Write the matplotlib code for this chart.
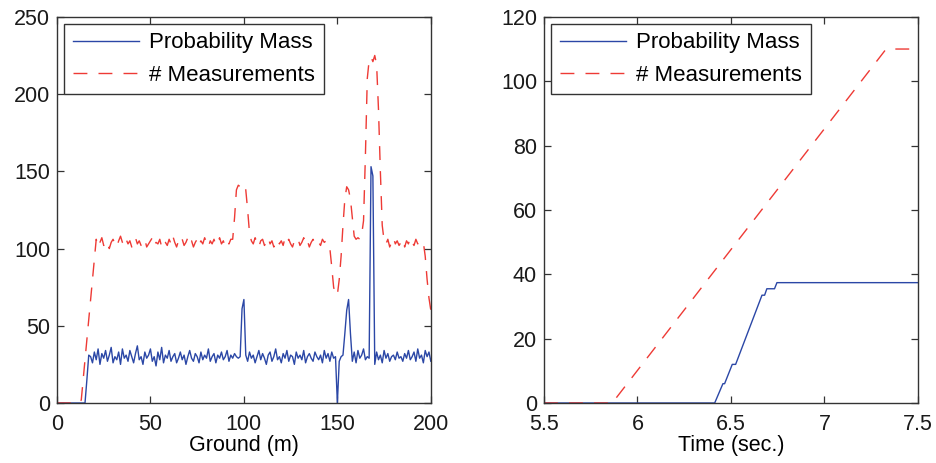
import matplotlib
matplotlib.use("Agg")
import matplotlib.pyplot as plt
import numpy as np

plt.rcParams['font.family'] = ['Liberation Sans', 'DejaVu Sans']
plt.rcParams['font.size'] = 15.5

# left panel: per-metre values along the ground
ground_m = np.arange(0, 201)
prob_mass_ground = [
    0, 0, 0, 0, 0, 0, 0, 0, 0, 0,
    0, 0, 0, 0, 0, 0, 15, 31, 30, 26,
    33, 28, 35, 25, 32, 29, 34, 27, 31, 36,
    26, 30, 28, 33, 25, 35, 29, 31, 27, 34,
    30, 26, 32, 37, 28, 30, 25, 33, 29, 31,
    35, 27, 30, 24, 33, 28, 36, 26, 31, 29,
    34, 27, 30, 32, 26, 29, 33, 28, 31, 25,
    30, 34, 29, 27, 32, 30, 26, 33, 28, 31,
    29, 35, 27, 30, 32, 26, 31, 29, 33, 28,
    30, 34, 27, 31, 29, 32, 30, 29, 30, 61,
    67, 31, 27, 33, 29, 31, 26, 30, 34, 28,
    32, 29, 25, 31, 33, 27, 30, 35, 28, 30,
    26, 32, 29, 34, 27, 31, 30, 25, 33, 29,
    31, 28, 34, 26, 30, 32, 29, 27, 33, 30,
    28, 31, 26, 34, 29, 32, 27, 33, 29, 30,
    0, 27, 30, 31, 45, 60, 67, 45, 27, 33,
    26, 34, 29, 31, 35, 28, 30, 29, 153, 147,
    25, 33, 28, 31, 26, 34, 29, 32, 27, 30,
    31, 28, 33, 29, 30, 27, 32, 29, 34, 28,
    30, 33, 27, 35, 29, 31, 26, 34, 30, 33,
    27,
]
n_meas_ground = [
    0, 0, 0, 0, 0, 0, 0, 0, 0, 0,
    0, 0, 0, 2, 15, 28, 41, 54, 67, 80,
    93, 106, 101, 104, 107, 102, 105, 103, 100, 104,
    106, 103, 101, 105, 108, 104, 102, 106, 103, 105,
    101, 104, 107, 103, 105, 102, 104, 106, 101, 103,
    105, 107, 102, 104, 103, 106, 101, 105, 104, 102,
    106, 103, 108, 104, 101, 105, 103, 106, 102, 104,
    107, 103, 105, 101, 104, 106, 102, 105, 103, 107,
    104, 101, 105, 103, 106, 102, 104, 107, 103, 105,
    101, 104, 103, 106, 106, 120, 138, 141, 140, 142,
    141, 138, 125, 110, 105, 103, 107, 104, 101, 105,
    106, 102, 104, 107, 103, 105, 101, 104, 106, 103,
    105, 102, 107, 104, 106, 103, 101, 105, 104, 106,
    102, 104, 107, 103, 105, 101, 104, 106, 103, 105,
    104, 102, 106, 104, 105, 103, 100, 88, 75, 70,
    70, 80, 95, 115, 132, 140, 138, 132, 120, 108,
    106, 107, 106, 109, 118, 160, 210, 222, 224, 221,
    225, 219, 190, 150, 115, 105, 103, 106, 101, 104,
    107, 103, 105, 102, 104, 106, 101, 105, 103, 107,
    104, 102, 106, 103, 105, 104, 104, 95, 80, 68,
    60,
]

# right panel: accumulation over time
time_prob = [5.5, 6.413, 6.457, 6.466, 6.507, 6.525, 6.666, 6.68, 6.692, 6.733, 6.746, 7.5]
prob_mass_time = [0, 0, 6, 6, 12, 12, 33.5, 33.5, 35.5, 35.5, 37.4, 37.4]
time_meas = [5.5, 5.865, 7.33, 7.5]
n_meas_time = [0, 0, 110, 110]

blue = '#2b47a6'
red = '#ee3a35'
edge = '#333333'
dash = (10, 8)

fig = plt.figure(figsize=(9.37, 4.63), dpi=100)
ax1 = fig.add_axes([0.0608, 0.1296, 0.399, 0.834])
ax2 = fig.add_axes([0.5806, 0.1296, 0.399, 0.834])


def style(ax):
    for s in ax.spines.values():
        s.set_color(edge)
        s.set_linewidth(1.0)
    ax.tick_params(direction='in', top=True, right=True, length=5,
                   width=0.9, color=edge, labelcolor='#1a1a1a', pad=5)
    ax.tick_params(axis='x', pad=8)


ax1.plot(ground_m, prob_mass_ground, color=blue, lw=1.0, label='Probability Mass')
ax1.plot(ground_m, n_meas_ground, color=red, lw=1.0, dashes=dash, label='# Measurements')
ax1.set_xlim(0, 200)
ax1.set_ylim(0, 250)
ax1.set_xticks([0, 50, 100, 150, 200])
ax1.set_yticks([0, 50, 100, 150, 200, 250])
ax1.set_xlabel('Ground (m)', labelpad=0)
style(ax1)

ax2.plot(time_prob, prob_mass_time, color=blue, lw=1.0, label='Probability Mass')
ax2.plot(time_meas, n_meas_time, color=red, lw=1.0, dashes=dash, label='# Measurements')
ax2.set_xlim(5.5, 7.5)
ax2.set_ylim(0, 120)
ax2.set_xticks([5.5, 6, 6.5, 7, 7.5])
ax2.set_xticklabels(['5.5', '6', '6.5', '7', '7.5'])
ax2.set_yticks([0, 20, 40, 60, 80, 100, 120])
ax2.set_xlabel('Time (sec.)', labelpad=0)
style(ax2)

for ax in (ax1, ax2):
    leg = ax.legend(loc='upper left', bbox_to_anchor=(0.0, 1.0), fancybox=False,
                    framealpha=1, edgecolor=edge, handlelength=3.0,
                    handletextpad=0.45, borderpad=0.4, labelspacing=0.5,
                    borderaxespad=0.3, fontsize=16)
    leg.get_frame().set_linewidth(1.0)

fig.savefig('out.png', dpi=100)
